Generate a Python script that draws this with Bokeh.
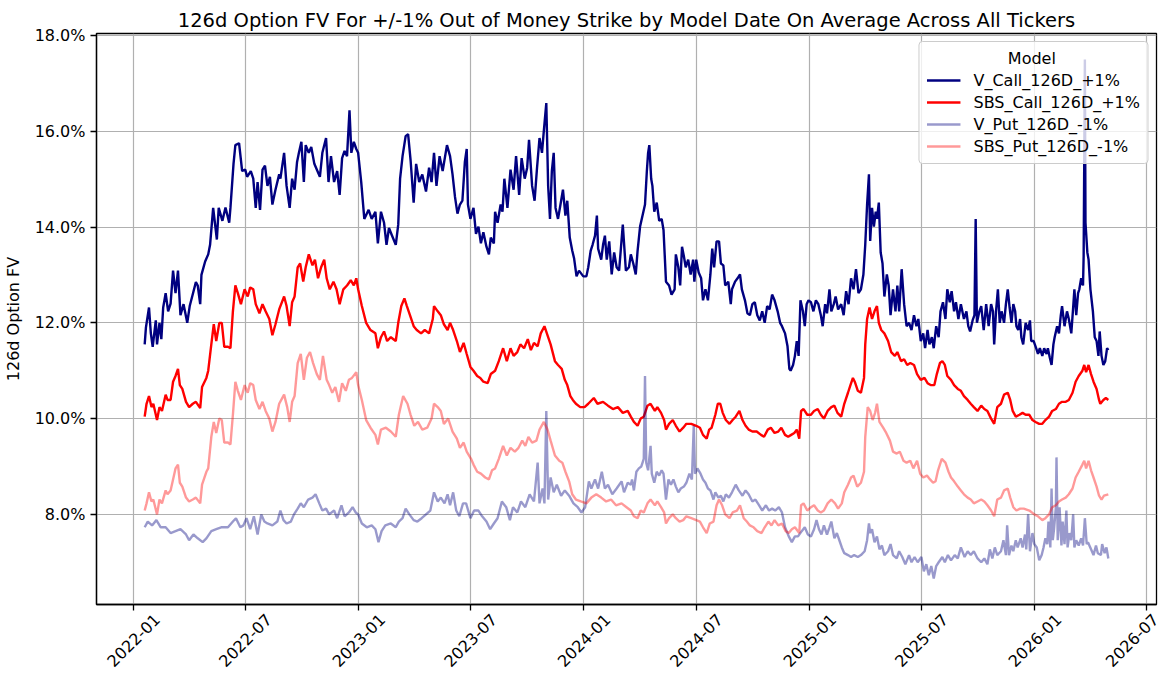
import math
import pandas as pd
from bokeh.plotting import figure
from bokeh.models import (Range1d, FixedTicker, PrintfTickFormatter, Legend, LegendItem,
                          ColumnDataSource, DatetimeAxis)
from bokeh.embed import file_html
from bokeh.resources import INLINE

TITLE = "126d Option FV For +/-1% Out of Money Strike by Model Date On Average Across All Tickers"
Y_LABEL = "126d Option FV"
LEGEND_TITLE = "Model"
FONT = "DejaVu Sans"

# (model date, average 126d option fair value in %)
v_call = [
    ("2022-01-19",11.55),("2022-01-21",11.90),("2022-01-26",12.32),("2022-01-29",11.78),("2022-02-01",11.50),
    ("2022-02-06",12.05),("2022-02-08",11.55),("2022-02-12",12.00),("2022-02-15",11.66),("2022-02-18",12.32),
    ("2022-02-22",12.62),("2022-02-26",12.24),("2022-03-02",12.40),("2022-03-06",13.09),("2022-03-10",12.62),
    ("2022-03-14",13.09),("2022-03-18",12.16),("2022-03-23",12.39),("2022-03-29",12.00),("2022-04-02",12.35),
    ("2022-04-06",12.55),("2022-04-12",12.85),("2022-04-15",12.78),("2022-04-19",12.39),("2022-04-21",13.00),
    ("2022-04-27",13.28),("2022-05-02",13.43),("2022-05-05",13.63),("2022-05-10",14.40),("2022-05-16",13.74),
    ("2022-05-19",14.40),("2022-05-25",14.13),("2022-05-30",14.41),("2022-06-05",14.09),("2022-06-07",14.40),
    ("2022-06-12",15.32),("2022-06-15",15.71),("2022-06-21",15.75),("2022-06-26",15.17),("2022-07-01",15.20),
    ("2022-07-04",15.05),("2022-07-10",15.17),("2022-07-14",15.01),("2022-07-18",14.40),("2022-07-21",14.94),
    ("2022-07-25",14.36),("2022-07-29",15.20),("2022-08-02",15.28),("2022-08-06",14.86),("2022-08-10",15.05),
    ("2022-08-14",14.47),("2022-08-19",14.78),("2022-08-25",15.10),("2022-08-27",15.01),("2022-09-02",15.55),
    ("2022-09-06",14.86),("2022-09-11",14.40),("2022-09-15",15.01),("2022-09-19",14.78),("2022-09-23",15.36),
    ("2022-09-26",15.55),("2022-09-30",15.78),("2022-10-04",14.94),("2022-10-07",15.71),("2022-10-12",15.55),
    ("2022-10-16",15.67),("2022-10-21",15.32),("2022-10-26",15.17),("2022-10-30",15.05),("2022-11-03",15.55),
    ("2022-11-09",15.86),("2022-11-13",14.94),("2022-11-17",15.48),("2022-11-22",14.94),("2022-11-27",15.17),
    ("2022-12-01",14.67),("2022-12-05",15.44),("2022-12-09",15.59),("2022-12-13",15.48),("2022-12-17",16.44),
    ("2022-12-20",15.55),("2022-12-24",15.78),("2022-12-28",15.63),("2022-12-31",15.55),("2023-01-05",14.94),
    ("2023-01-10",14.17),("2023-01-17",14.36),("2023-01-22",14.17),("2023-01-28",14.32),("2023-02-01",13.66),
    ("2023-02-06",14.32),("2023-02-11",14.09),("2023-02-15",13.63),("2023-02-19",13.98),("2023-02-24",13.82),
    ("2023-03-02",13.63),("2023-03-06",14.05),("2023-03-09",15.01),("2023-03-13",15.48),("2023-03-18",15.90),
    ("2023-03-22",15.94),("2023-03-26",15.40),("2023-03-31",14.51),("2023-04-04",15.32),("2023-04-09",14.94),
    ("2023-04-14",15.10),("2023-04-20",14.74),("2023-04-25",15.24),("2023-04-29",14.94),("2023-05-03",15.55),
    ("2023-05-07",14.86),("2023-05-12",15.48),("2023-05-17",15.17),("2023-05-24",15.71),("2023-05-29",15.48),
    ("2023-06-02",15.10),("2023-06-06",14.63),("2023-06-10",14.28),("2023-06-14",14.47),("2023-06-18",14.55),
    ("2023-06-22",15.36),("2023-06-25",15.63),("2023-06-27",14.47),("2023-07-01",14.17),("2023-07-06",14.40),
    ("2023-07-10",13.86),("2023-07-14",14.01),("2023-07-18",13.66),("2023-07-22",13.89),("2023-07-27",13.59),
    ("2023-07-31",13.43),("2023-08-03",13.78),("2023-08-08",13.66),("2023-08-10",14.32),("2023-08-14",14.09),
    ("2023-08-19",14.47),("2023-08-22",14.32),("2023-08-25",15.01),("2023-08-30",14.40),("2023-09-04",15.20),
    ("2023-09-09",14.78),("2023-09-13",15.48),("2023-09-18",14.67),("2023-09-22",15.44),("2023-09-27",15.01),
    ("2023-10-01",15.24),("2023-10-04",15.82),("2023-10-09",14.86),("2023-10-13",14.55),("2023-10-17",15.24),
    ("2023-10-21",15.86),("2023-10-25",15.55),("2023-10-28",16.01),("2023-11-01",16.59),("2023-11-04",14.86),
    ("2023-11-07",14.17),("2023-11-10",15.17),("2023-11-13",15.55),("2023-11-16",14.40),("2023-11-20",14.17),
    ("2023-11-24",14.47),("2023-11-28",14.78),("2023-12-02",14.24),("2023-12-05",14.55),("2023-12-09",13.78),
    ("2023-12-13",13.51),("2023-12-16",13.35),("2023-12-20",12.97),("2023-12-24",13.09),("2023-12-31",12.97),
    ("2024-01-05",12.97),("2024-01-08",13.16),("2024-01-12",13.51),("2024-01-15",13.63),("2024-01-19",13.82),
    ("2024-01-22",14.24),("2024-01-24",13.55),("2024-01-29",13.32),("2024-02-01",13.63),("2024-02-04",13.82),
    ("2024-02-07",13.32),("2024-02-11",13.70),("2024-02-15",13.01),("2024-02-19",13.47),("2024-02-23",13.16),
    ("2024-02-27",13.09),("2024-03-04",14.05),("2024-03-09",13.09),("2024-03-14",13.16),("2024-03-17",13.43),
    ("2024-03-21",13.24),("2024-03-25",13.01),("2024-03-28",13.51),("2024-04-01",14.01),("2024-04-05",14.24),
    ("2024-04-09",14.47),("2024-04-12",15.17),("2024-04-14",15.55),("2024-04-16",15.71),("2024-04-19",15.01),
    ("2024-04-21",14.86),("2024-04-24",14.32),("2024-04-28",14.51),("2024-05-02",14.13),("2024-05-06",14.17),
    ("2024-05-09",13.94),("2024-05-13",12.86),("2024-05-18",12.78),("2024-05-22",12.59),("2024-05-27",12.70),
    ("2024-05-29",13.43),("2024-06-02",13.16),("2024-06-05",12.78),("2024-06-08",13.59),("2024-06-11",13.39),
    ("2024-06-14",13.16),("2024-06-18",13.32),("2024-06-22",13.01),("2024-06-26",13.32),("2024-06-28",12.86),
    ("2024-07-01",13.32),("2024-07-05",13.05),("2024-07-09",12.93),("2024-07-12",12.47),("2024-07-16",12.70),
    ("2024-07-20",12.47),("2024-07-24",13.01),("2024-07-27",13.55),("2024-07-30",13.16),("2024-08-03",13.70),
    ("2024-08-07",13.70),("2024-08-10",13.24),("2024-08-14",13.20),("2024-08-17",12.78),("2024-08-22",12.86),
    ("2024-08-26",12.39),("2024-08-28",12.70),("2024-09-02",12.86),("2024-09-06",12.93),("2024-09-10",13.01),
    ("2024-09-13",12.70),("2024-09-18",12.47),("2024-09-22",12.20),("2024-09-26",12.16),("2024-09-30",12.39),
    ("2024-10-04",12.43),("2024-10-08",12.16),("2024-10-12",12.05),("2024-10-16",12.24),("2024-10-20",12.00),
    ("2024-10-24",12.35),("2024-10-28",12.28),("2024-11-01",12.59),("2024-11-05",12.47),("2024-11-10",12.24),
    ("2024-11-14",12.00),("2024-11-17",11.93),("2024-11-22",11.78),("2024-11-26",11.51),("2024-11-29",11.04),
    ("2024-12-01",11.00),("2024-12-05",11.12),("2024-12-08",11.31),("2024-12-11",11.62),("2024-12-14",11.31),
    ("2024-12-17",12.47),("2024-12-21",12.24),("2024-12-24",11.93),("2024-12-27",12.39),("2024-12-30",12.47),
    ("2025-01-03",12.43),("2025-01-07",12.24),("2025-01-11",12.47),("2025-01-15",12.39),("2025-01-19",12.16),
    ("2025-01-22",11.93),("2025-01-26",12.39),("2025-01-29",12.20),("2025-02-02",12.70),("2025-02-05",12.24),
    ("2025-02-09",12.39),("2025-02-12",12.55),("2025-02-16",12.28),("2025-02-21",12.39),("2025-02-25",12.16),
    ("2025-03-01",12.66),("2025-03-05",12.39),("2025-03-09",12.93),("2025-03-13",12.70),("2025-03-17",13.12),
    ("2025-03-21",12.62),("2025-03-25",12.70),("2025-03-29",13.01),("2025-04-01",13.63),("2025-04-04",14.47),
    ("2025-04-07",15.10),("2025-04-09",13.71),("2025-04-12",14.40),("2025-04-15",14.01),("2025-04-18",14.32),
    ("2025-04-20",14.17),("2025-04-23",14.51),("2025-04-26",13.47),("2025-04-29",13.24),("2025-05-02",12.55),
    ("2025-05-06",13.01),("2025-05-09",12.78),("2025-05-12",12.16),("2025-05-16",12.70),("2025-05-20",12.24),
    ("2025-05-23",12.78),("2025-05-26",12.24),("2025-05-30",13.12),("2025-06-03",12.39),("2025-06-07",11.93),
    ("2025-06-11",12.00),("2025-06-15",11.85),("2025-06-19",12.16),("2025-06-23",11.93),("2025-06-26",12.08),
    ("2025-06-30",11.62),("2025-07-04",11.78),("2025-07-07",11.47),("2025-07-11",11.85),("2025-07-14",11.55),
    ("2025-07-18",11.70),("2025-07-21",11.47),("2025-07-25",11.93),("2025-07-29",11.70),("2025-08-01",12.24),
    ("2025-08-05",12.43),("2025-08-09",12.08),("2025-08-12",12.70),("2025-08-16",12.43),("2025-08-19",12.66),
    ("2025-08-23",12.24),("2025-08-26",12.43),("2025-08-30",12.08),("2025-09-03",12.39),("2025-09-08",12.08),
    ("2025-09-12",12.24),("2025-09-15",11.93),("2025-09-18",11.82),("2025-09-22",12.05),("2025-09-25",12.16),
    ("2025-09-27",14.17),("2025-09-29",12.00),("2025-10-03",12.24),("2025-10-06",12.35),("2025-10-10",11.85),
    ("2025-10-14",12.39),("2025-10-18",11.93),("2025-10-22",12.39),("2025-10-25",12.24),("2025-10-27",11.55),
    ("2025-10-30",12.24),("2025-11-02",12.70),("2025-11-05",12.00),("2025-11-08",12.24),("2025-11-12",12.00),
    ("2025-11-15",12.39),("2025-11-18",12.70),("2025-11-21",12.32),("2025-11-24",12.00),("2025-11-27",12.39),
    ("2025-11-30",12.24),("2025-12-02",11.93),("2025-12-05",11.85),("2025-12-08",12.08),("2025-12-10",11.70),
    ("2025-12-13",11.55),("2025-12-17",12.00),("2025-12-21",11.85),("2025-12-24",12.05),("2025-12-26",11.62),
    ("2025-12-30",11.62),("2026-01-03",11.47),("2026-01-06",11.35),("2026-01-09",11.47),("2026-01-13",11.31),
    ("2026-01-16",11.47),("2026-01-20",11.35),("2026-01-22",11.47),("2026-01-25",11.28),("2026-01-28",11.12),
    ("2026-01-31",11.55),("2026-02-02",11.70),("2026-02-06",11.93),("2026-02-09",11.78),("2026-02-12",12.16),
    ("2026-02-14",12.35),("2026-02-18",11.93),("2026-02-22",12.24),("2026-02-25",12.08),("2026-03-01",11.78),
    ("2026-03-04",12.32),("2026-03-06",12.70),("2026-03-09",12.16),("2026-03-12",12.62),("2026-03-14",12.70),
    ("2026-03-17",12.93),("2026-03-20",12.78),("2026-03-21",13.39),("2026-03-23",17.50),("2026-03-24",14.09),
    ("2026-03-27",13.47),("2026-03-29",13.32),("2026-04-01",12.70),("2026-04-05",12.24),("2026-04-08",11.70),
    ("2026-04-11",11.62),("2026-04-14",11.31),("2026-04-16",11.82),("2026-04-19",11.31),("2026-04-22",11.12),
    ("2026-04-25",11.20),("2026-04-28",11.47),("2026-04-30",11.43),
]

sbs_call = [
    ("2022-01-19",10.04),("2022-01-22",10.31),("2022-01-26",10.47),("2022-01-30",10.24),("2022-02-02",10.31),
    ("2022-02-08",9.97),("2022-02-12",10.24),("2022-02-16",10.16),("2022-02-22",10.50),("2022-02-25",10.39),
    ("2022-03-02",10.39),("2022-03-06",10.77),("2022-03-10",10.89),("2022-03-14",11.04),("2022-03-17",10.70),
    ("2022-03-21",10.62),("2022-03-27",10.35),("2022-04-01",10.24),("2022-04-07",10.31),("2022-04-12",10.35),
    ("2022-04-19",10.22),("2022-04-22",10.66),("2022-04-29",10.85),("2022-05-02",11.00),("2022-05-07",11.55),
    ("2022-05-11",11.97),("2022-05-15",11.62),("2022-05-20",12.00),("2022-05-24",12.00),("2022-05-28",11.50),
    ("2022-06-03",11.50),("2022-06-07",11.47),("2022-06-11",12.24),("2022-06-15",12.78),("2022-06-19",12.62),
    ("2022-06-24",12.39),("2022-06-30",12.70),("2022-07-05",12.55),("2022-07-09",12.74),("2022-07-14",12.70),
    ("2022-07-18",12.39),("2022-07-24",12.20),("2022-07-29",12.39),("2022-08-03",12.24),("2022-08-09",12.08),
    ("2022-08-14",11.74),("2022-08-19",11.97),("2022-08-25",12.28),("2022-08-27",12.35),("2022-09-02",12.55),
    ("2022-09-06",12.35),("2022-09-11",11.93),("2022-09-15",12.43),("2022-09-19",12.55),("2022-09-24",13.16),
    ("2022-09-28",13.24),("2022-10-03",12.86),("2022-10-07",13.16),("2022-10-12",13.43),("2022-10-18",13.20),
    ("2022-10-22",13.32),("2022-10-27",12.93),("2022-11-01",13.16),("2022-11-06",13.32),("2022-11-10",12.93),
    ("2022-11-15",12.70),("2022-11-21",12.86),("2022-11-26",12.70),("2022-12-01",12.39),("2022-12-07",12.70),
    ("2022-12-13",12.78),("2022-12-19",12.89),("2022-12-24",12.78),("2022-12-28",12.93),("2022-12-31",12.70),
    ("2023-01-06",12.35),("2023-01-13",12.00),("2023-01-20",11.85),("2023-01-28",11.78),("2023-02-01",11.47),
    ("2023-02-06",11.70),("2023-02-11",11.82),("2023-02-16",11.62),("2023-02-22",11.70),("2023-03-02",11.62),
    ("2023-03-06",12.00),("2023-03-11",12.35),("2023-03-16",12.51),("2023-03-20",12.35),("2023-03-25",12.16),
    ("2023-03-31",11.93),("2023-04-05",11.85),("2023-04-12",11.78),("2023-04-18",11.85),("2023-04-25",11.78),
    ("2023-05-01",12.08),("2023-05-03",12.35),("2023-05-09",12.24),("2023-05-14",12.16),("2023-05-19",11.97),
    ("2023-05-25",11.85),("2023-05-29",12.00),("2023-06-03",11.85),("2023-06-09",11.62),("2023-06-14",11.39),
    ("2023-06-20",11.58),("2023-06-25",11.35),("2023-07-01",11.08),("2023-07-06",11.00),("2023-07-12",10.89),
    ("2023-07-17",10.85),("2023-07-22",10.77),("2023-07-29",10.74),("2023-08-03",10.93),("2023-08-10",11.00),
    ("2023-08-16",11.20),("2023-08-23",11.47),("2023-08-29",11.20),("2023-09-04",11.47),("2023-09-09",11.31),
    ("2023-09-15",11.39),("2023-09-20",11.55),("2023-09-26",11.47),("2023-10-02",11.66),("2023-10-07",11.43),
    ("2023-10-12",11.58),("2023-10-18",11.51),("2023-10-23",11.78),("2023-10-29",11.93),("2023-11-03",11.74),
    ("2023-11-08",11.55),("2023-11-15",11.20),("2023-11-20",11.12),("2023-11-26",11.04),("2023-12-01",10.81),
    ("2023-12-05",10.70),("2023-12-10",10.47),("2023-12-14",10.39),("2023-12-19",10.31),("2023-12-26",10.24),
    ("2024-01-02",10.24),("2024-01-08",10.31),("2024-01-17",10.43),("2024-01-23",10.31),("2024-02-01",10.35),
    ("2024-02-09",10.27),("2024-02-17",10.20),("2024-02-25",10.24),("2024-03-04",10.12),("2024-03-12",10.16),
    ("2024-03-17",10.04),("2024-03-22",9.93),("2024-03-28",9.85),("2024-04-02",10.00),("2024-04-07",10.04),
    ("2024-04-13",10.27),("2024-04-18",10.31),("2024-04-25",10.16),("2024-04-29",10.24),("2024-05-05",10.12),
    ("2024-05-10",9.97),("2024-05-13",9.77),("2024-05-18",9.89),("2024-05-24",9.97),("2024-05-29",9.85),
    ("2024-06-04",9.73),("2024-06-10",9.81),("2024-06-15",9.89),("2024-06-23",9.89),("2024-07-01",9.85),
    ("2024-07-07",9.81),("2024-07-12",9.66),("2024-07-18",9.58),("2024-07-22",9.77),("2024-07-26",9.81),
    ("2024-08-01",10.08),("2024-08-05",10.31),("2024-08-09",10.31),("2024-08-13",10.12),("2024-08-18",9.97),
    ("2024-08-24",9.89),("2024-08-29",9.97),("2024-09-03",10.04),("2024-09-09",10.16),("2024-09-14",9.97),
    ("2024-09-19",9.85),("2024-09-24",9.77),("2024-09-30",9.73),("2024-10-07",9.73),("2024-10-14",9.66),
    ("2024-10-19",9.62),("2024-10-25",9.77),("2024-10-30",9.81),("2024-11-05",9.70),("2024-11-11",9.73),
    ("2024-11-16",9.81),("2024-11-22",9.66),("2024-11-27",9.62),("2024-12-02",9.66),("2024-12-07",9.70),
    ("2024-12-11",9.77),("2024-12-15",9.58),("2024-12-18",10.16),("2024-12-22",10.20),("2024-12-28",10.08),
    ("2025-01-03",10.08),("2025-01-08",10.16),("2025-01-14",10.20),("2025-01-19",10.08),("2025-01-24",10.00),
    ("2025-01-30",10.16),("2025-02-05",10.24),("2025-02-10",10.27),("2025-02-15",10.12),("2025-02-21",10.04),
    ("2025-02-26",10.31),("2025-03-04",10.54),("2025-03-08",10.70),("2025-03-12",10.85),("2025-03-15",10.77),
    ("2025-03-20",10.58),("2025-03-25",10.54),("2025-03-30",10.85),("2025-04-01",11.55),("2025-04-04",12.08),
    ("2025-04-08",12.32),("2025-04-12",12.08),("2025-04-16",12.24),("2025-04-20",12.35),("2025-04-23",12.00),
    ("2025-04-27",11.85),("2025-05-02",11.78),("2025-05-08",11.62),("2025-05-13",11.39),("2025-05-19",11.31),
    ("2025-05-23",11.39),("2025-05-29",11.20),("2025-06-03",11.24),("2025-06-08",11.12),("2025-06-13",11.16),
    ("2025-06-19",11.12),("2025-06-24",10.93),("2025-06-30",10.81),("2025-07-06",10.85),("2025-07-11",10.74),
    ("2025-07-16",10.70),("2025-07-22",10.70),("2025-07-26",10.93),("2025-07-31",11.16),("2025-08-04",11.20),
    ("2025-08-08",11.12),("2025-08-12",10.89),("2025-08-18",10.81),("2025-08-23",10.70),("2025-08-29",10.62),
    ("2025-09-03",10.58),("2025-09-08",10.47),("2025-09-14",10.39),("2025-09-19",10.31),("2025-09-24",10.24),
    ("2025-09-30",10.16),("2025-10-06",10.27),("2025-10-11",10.20),("2025-10-16",10.16),("2025-10-22",10.00),
    ("2025-10-27",9.89),("2025-11-01",10.24),("2025-11-07",10.31),("2025-11-12",10.50),("2025-11-18",10.54),
    ("2025-11-22",10.39),("2025-11-26",10.16),("2025-12-01",10.04),("2025-12-07",10.08),("2025-12-12",10.12),
    ("2025-12-17",10.08),("2025-12-23",10.08),("2025-12-28",9.97),("2026-01-02",9.93),("2026-01-08",9.89),
    ("2026-01-13",9.89),("2026-01-18",9.97),("2026-01-24",10.04),("2026-01-29",10.16),("2026-02-04",10.20),
    ("2026-02-09",10.31),("2026-02-14",10.35),("2026-02-20",10.35),("2026-02-25",10.39),("2026-03-03",10.54),
    ("2026-03-08",10.77),("2026-03-13",10.89),("2026-03-19",11.00),("2026-03-22",11.12),("2026-03-25",10.97),
    ("2026-03-29",11.12),("2026-04-02",10.93),("2026-04-06",10.77),("2026-04-11",10.62),("2026-04-15",10.39),
    ("2026-04-17",10.31),("2026-04-22",10.39),("2026-04-26",10.43),("2026-04-30",10.39),
]

v_put = [
    ("2022-01-19",7.73),("2022-01-24",7.85),("2022-01-31",7.77),("2022-02-07",7.88),("2022-02-14",7.73),
    ("2022-02-22",7.73),("2022-03-02",7.61),("2022-03-10",7.65),("2022-03-18",7.69),("2022-03-27",7.58),
    ("2022-04-01",7.46),("2022-04-08",7.58),("2022-04-15",7.50),("2022-04-23",7.42),("2022-04-29",7.50),
    ("2022-05-07",7.65),("2022-05-15",7.69),("2022-05-23",7.73),("2022-06-03",7.73),("2022-06-11",7.85),
    ("2022-06-16",7.92),("2022-06-23",7.73),("2022-06-28",7.77),("2022-07-03",7.92),("2022-07-09",7.69),
    ("2022-07-15",7.96),("2022-07-21",7.58),("2022-07-27",8.00),("2022-08-01",7.85),("2022-08-06",7.81),
    ("2022-08-14",7.77),("2022-08-22",7.85),("2022-08-27",8.08),("2022-09-01",7.88),("2022-09-06",7.81),
    ("2022-09-13",7.85),("2022-09-18",8.00),("2022-09-24",8.12),("2022-09-29",8.23),("2022-10-04",8.15),
    ("2022-10-11",8.31),("2022-10-18",8.35),("2022-10-23",8.42),("2022-10-29",8.23),("2022-11-03",8.08),
    ("2022-11-09",8.12),("2022-11-14",8.00),("2022-11-22",8.08),("2022-11-27",7.92),("2022-12-04",8.19),
    ("2022-12-09",7.96),("2022-12-16",8.04),("2022-12-22",8.15),("2022-12-27",8.04),("2022-12-31",8.00),
    ("2023-01-06",7.81),("2023-01-14",7.73),("2023-01-22",7.77),("2023-01-28",7.69),("2023-02-02",7.42),
    ("2023-02-07",7.65),("2023-02-13",7.77),("2023-02-22",7.81),("2023-03-02",7.73),("2023-03-07",7.85),
    ("2023-03-13",7.92),("2023-03-18",8.12),("2023-03-24",8.00),("2023-03-31",7.88),("2023-04-06",7.85),
    ("2023-04-13",7.92),("2023-04-20",8.00),("2023-04-27",8.08),("2023-05-03",8.46),("2023-05-09",8.27),
    ("2023-05-14",8.35),("2023-05-20",8.23),("2023-05-25",8.42),("2023-05-29",8.19),("2023-06-03",8.46),
    ("2023-06-08",8.08),("2023-06-13",7.96),("2023-06-19",8.23),("2023-06-24",8.23),("2023-07-01",7.92),
    ("2023-07-07",8.08),("2023-07-14",8.08),("2023-07-20",7.96),("2023-07-27",7.85),("2023-08-02",7.69),
    ("2023-08-08",7.81),("2023-08-14",7.92),("2023-08-21",8.27),("2023-08-28",8.15),("2023-09-03",7.88),
    ("2023-09-08",8.15),("2023-09-15",8.04),("2023-09-21",8.27),("2023-09-28",8.15),("2023-10-05",8.42),
    ("2023-10-12",8.27),("2023-10-18",9.08),("2023-10-21",8.23),("2023-10-26",8.54),("2023-10-29",8.23),
    ("2023-11-01",10.16),("2023-11-04",8.31),("2023-11-08",8.77),("2023-11-13",8.46),("2023-11-18",8.62),
    ("2023-11-25",8.39),("2023-12-01",8.50),("2023-12-08",8.39),("2023-12-15",8.23),("2023-12-22",8.15),
    ("2023-12-28",8.04),("2024-01-03",8.15),("2024-01-09",8.69),("2024-01-13",8.54),("2024-01-19",8.73),
    ("2024-01-24",8.54),("2024-01-30",8.89),("2024-02-04",8.54),("2024-02-09",8.62),("2024-02-16",8.42),
    ("2024-02-23",8.54),("2024-03-02",8.69),("2024-03-06",8.46),("2024-03-12",8.66),("2024-03-17",8.62),
    ("2024-03-19",8.73),("2024-03-22",8.50),("2024-03-26",8.89),("2024-03-30",8.96),("2024-04-03",9.00),
    ("2024-04-07",9.16),("2024-04-09",10.89),("2024-04-11",9.08),("2024-04-14",8.92),("2024-04-18",9.43),
    ("2024-04-20",8.85),("2024-04-24",8.66),("2024-04-28",8.89),("2024-05-02",8.81),("2024-05-06",8.92),
    ("2024-05-09",8.85),("2024-05-13",8.31),("2024-05-17",8.73),("2024-05-21",8.62),("2024-05-25",8.73),
    ("2024-05-29",8.58),("2024-06-02",8.46),("2024-06-06",8.54),("2024-06-11",8.58),("2024-06-15",8.66),
    ("2024-06-20",8.85),("2024-06-24",8.73),("2024-06-27",9.85),("2024-06-29",8.85),("2024-07-03",8.96),
    ("2024-07-08",8.85),("2024-07-12",8.73),("2024-07-16",8.66),("2024-07-20",8.54),("2024-07-24",8.50),
    ("2024-07-29",8.31),("2024-08-01",8.46),("2024-08-06",8.35),("2024-08-10",8.39),("2024-08-14",8.27),
    ("2024-08-18",8.42),("2024-08-23",8.35),("2024-08-28",8.46),("2024-09-03",8.62),("2024-09-08",8.50),
    ("2024-09-14",8.39),("2024-09-19",8.50),("2024-09-24",8.42),("2024-09-30",8.27),("2024-10-05",8.31),
    ("2024-10-11",8.19),("2024-10-16",8.08),("2024-10-22",8.19),("2024-10-27",8.08),("2024-11-01",8.12),
    ("2024-11-06",8.08),("2024-11-12",8.15),("2024-11-17",8.04),("2024-11-22",7.73),("2024-11-28",7.54),
    ("2024-12-03",7.42),("2024-12-08",7.54),("2024-12-13",7.54),("2024-12-19",7.65),("2024-12-24",7.73),
    ("2024-12-29",7.58),("2025-01-03",7.54),("2025-01-08",7.69),("2025-01-12",7.88),("2025-01-16",7.69),
    ("2025-01-20",7.58),("2025-01-24",7.77),("2025-01-29",7.58),("2025-02-02",7.73),("2025-02-05",7.85),
    ("2025-02-10",7.50),("2025-02-14",7.61),("2025-02-18",7.46),("2025-02-22",7.31),("2025-02-26",7.19),
    ("2025-03-04",7.15),("2025-03-09",7.11),("2025-03-14",7.15),("2025-03-20",7.11),("2025-03-25",7.15),
    ("2025-03-31",7.23),("2025-04-04",7.46),("2025-04-07",7.81),("2025-04-09",7.61),("2025-04-12",7.69),
    ("2025-04-16",7.42),("2025-04-20",7.54),("2025-04-24",7.27),("2025-04-28",7.35),("2025-05-02",7.15),
    ("2025-05-08",7.23),("2025-05-12",7.38),("2025-05-16",7.15),("2025-05-22",7.08),("2025-05-26",7.23),
    ("2025-05-31",7.11),("2025-06-05",6.96),("2025-06-11",7.15),("2025-06-15",7.00),("2025-06-20",7.11),
    ("2025-06-25",7.00),("2025-07-01",7.11),("2025-07-05",6.81),("2025-07-09",6.96),("2025-07-13",6.73),
    ("2025-07-17",6.92),("2025-07-21",6.66),("2025-07-25",6.92),("2025-07-29",7.00),("2025-08-04",7.11),
    ("2025-08-08",7.00),("2025-08-13",7.15),("2025-08-18",7.04),("2025-08-24",7.15),("2025-08-29",7.08),
    ("2025-09-03",7.31),("2025-09-09",7.11),("2025-09-14",7.23),("2025-09-19",7.15),("2025-09-24",7.23),
    ("2025-09-30",7.08),("2025-10-06",7.00),("2025-10-11",7.08),("2025-10-16",6.96),("2025-10-20",7.27),
    ("2025-10-24",7.08),("2025-10-28",7.31),("2025-11-01",7.15),("2025-11-07",7.23),("2025-11-11",7.46),
    ("2025-11-15",7.15),("2025-11-17",7.77),("2025-11-20",7.15),("2025-11-24",7.35),("2025-11-27",7.23),
    ("2025-12-01",7.46),("2025-12-04",7.31),("2025-12-09",7.50),("2025-12-12",7.31),("2025-12-16",7.58),
    ("2025-12-18",7.27),("2025-12-21",8.00),("2025-12-24",7.23),("2025-12-28",7.61),("2025-12-31",7.38),
    ("2026-01-04",7.31),("2026-01-08",7.04),("2026-01-12",7.15),("2026-01-15",7.31),("2026-01-18",7.50),
    ("2026-01-21",7.38),("2026-01-23",7.85),("2026-01-26",7.31),("2026-01-28",8.54),("2026-01-30",7.46),
    ("2026-02-01",7.69),("2026-02-04",8.15),("2026-02-05",9.19),("2026-02-07",7.46),("2026-02-10",8.15),
    ("2026-02-13",7.35),("2026-02-15",7.85),("2026-02-18",7.38),("2026-02-21",8.08),("2026-02-23",7.31),
    ("2026-02-26",7.61),("2026-03-01",7.46),("2026-03-04",8.00),("2026-03-06",7.31),("2026-03-09",7.46),
    ("2026-03-13",7.35),("2026-03-17",7.50),("2026-03-20",7.35),("2026-03-23",7.92),("2026-03-26",7.38),
    ("2026-03-28",7.42),("2026-04-02",7.27),("2026-04-06",7.15),("2026-04-10",7.35),("2026-04-13",7.19),
    ("2026-04-18",7.15),("2026-04-20",7.38),("2026-04-24",7.19),("2026-04-27",7.31),("2026-04-30",7.08),
]

sbs_put = [
    ("2022-01-19",8.08),("2022-01-22",8.23),("2022-01-26",8.46),("2022-01-30",8.27),("2022-02-02",8.31),
    ("2022-02-08",8.00),("2022-02-12",8.31),("2022-02-16",8.23),("2022-02-22",8.50),("2022-02-25",8.42),
    ("2022-03-02",8.50),("2022-03-06",8.73),("2022-03-10",8.96),("2022-03-14",9.04),("2022-03-17",8.66),
    ("2022-03-21",8.58),("2022-03-27",8.35),("2022-04-01",8.27),("2022-04-07",8.31),("2022-04-12",8.35),
    ("2022-04-19",8.23),("2022-04-22",8.62),("2022-04-29",8.89),("2022-05-02",8.96),("2022-05-07",9.62),
    ("2022-05-11",9.93),("2022-05-15",9.70),("2022-05-20",10.00),("2022-05-24",9.97),("2022-05-28",9.50),
    ("2022-06-03",9.50),("2022-06-07",9.46),("2022-06-11",10.08),("2022-06-15",10.77),("2022-06-19",10.58),
    ("2022-06-24",10.39),("2022-06-30",10.70),("2022-07-05",10.54),("2022-07-09",10.74),("2022-07-14",10.70),
    ("2022-07-18",10.39),("2022-07-24",10.20),("2022-07-29",10.35),("2022-08-03",10.16),("2022-08-09",10.00),
    ("2022-08-14",9.73),("2022-08-19",9.93),("2022-08-25",10.31),("2022-09-02",10.50),("2022-09-07",10.24),
    ("2022-09-11",9.93),("2022-09-15",10.35),("2022-09-19",10.47),("2022-09-24",11.16),("2022-09-29",11.35),
    ("2022-10-04",10.81),("2022-10-09",11.27),("2022-10-14",11.39),("2022-10-19",11.16),("2022-10-25",10.93),
    ("2022-10-30",10.81),("2022-11-04",11.31),("2022-11-10",10.81),("2022-11-14",10.70),("2022-11-19",10.54),
    ("2022-11-24",10.66),("2022-11-30",10.35),("2022-12-05",10.74),("2022-12-11",10.58),("2022-12-16",10.81),
    ("2022-12-21",10.85),("2022-12-28",10.97),("2022-12-31",10.70),("2023-01-06",10.39),("2023-01-13",9.97),
    ("2023-01-20",9.81),("2023-01-28",9.66),("2023-02-01",9.46),("2023-02-06",9.77),("2023-02-14",9.81),
    ("2023-02-22",9.73),("2023-03-02",9.62),("2023-03-07",10.08),("2023-03-14",10.47),("2023-03-21",10.31),
    ("2023-03-26",10.08),("2023-04-01",9.85),("2023-04-07",9.93),("2023-04-14",9.77),("2023-04-22",9.81),
    ("2023-04-29",10.00),("2023-05-03",10.31),("2023-05-09",10.24),("2023-05-14",10.16),("2023-05-19",9.89),
    ("2023-05-26",10.00),("2023-06-02",9.73),("2023-06-09",9.58),("2023-06-14",9.39),("2023-06-20",9.50),
    ("2023-06-25",9.31),("2023-07-02",9.16),("2023-07-06",9.04),("2023-07-12",8.89),("2023-07-18",8.85),
    ("2023-07-25",8.77),("2023-07-31",8.73),("2023-08-05",8.92),("2023-08-10",8.96),("2023-08-16",9.16),
    ("2023-08-23",9.43),("2023-08-29",9.23),("2023-09-04",9.39),("2023-09-11",9.31),("2023-09-17",9.39),
    ("2023-09-23",9.54),("2023-09-28",9.43),("2023-10-03",9.62),("2023-10-09",9.50),("2023-10-16",9.54),
    ("2023-10-21",9.77),("2023-10-28",9.93),("2023-11-03",9.77),("2023-11-08",9.54),("2023-11-15",9.23),
    ("2023-11-22",9.12),("2023-11-27",9.08),("2023-12-02",8.89),("2023-12-08",8.69),("2023-12-13",8.42),
    ("2023-12-19",8.31),("2023-12-27",8.27),("2024-01-05",8.23),("2024-01-13",8.35),("2024-01-21",8.42),
    ("2024-01-29",8.35),("2024-02-06",8.27),("2024-02-14",8.31),("2024-02-22",8.19),("2024-03-02",8.23),
    ("2024-03-10",8.15),("2024-03-17",8.08),("2024-03-22",7.96),("2024-03-28",7.92),("2024-04-02",8.08),
    ("2024-04-07",8.04),("2024-04-13",8.23),("2024-04-18",8.31),("2024-04-25",8.19),("2024-04-29",8.27),
    ("2024-05-05",8.15),("2024-05-10",8.04),("2024-05-13",7.81),("2024-05-18",7.92),("2024-05-24",8.00),
    ("2024-05-29",7.92),("2024-06-04",7.85),("2024-06-10",7.88),("2024-06-15",7.96),("2024-06-23",7.92),
    ("2024-07-01",7.88),("2024-07-07",7.85),("2024-07-12",7.73),("2024-07-18",7.61),("2024-07-23",7.81),
    ("2024-07-29",7.85),("2024-08-03",8.19),("2024-08-07",8.31),("2024-08-12",8.19),("2024-08-17",8.00),
    ("2024-08-24",7.92),("2024-08-29",8.04),("2024-09-05",8.08),("2024-09-10",8.19),("2024-09-16",7.92),
    ("2024-09-21",7.85),("2024-09-26",7.77),("2024-10-02",7.73),("2024-10-08",7.65),("2024-10-15",7.61),
    ("2024-10-20",7.73),("2024-10-26",7.85),("2024-10-31",7.77),("2024-11-05",7.88),("2024-11-11",7.77),
    ("2024-11-17",7.81),("2024-11-23",7.65),("2024-11-28",7.61),("2024-12-03",7.69),("2024-12-08",7.73),
    ("2024-12-15",7.61),("2024-12-18",8.19),("2024-12-22",8.23),("2024-12-28",8.08),("2025-01-03",8.15),
    ("2025-01-08",8.19),("2025-01-14",8.08),("2025-01-19",8.04),("2025-01-24",8.08),("2025-01-30",8.23),
    ("2025-02-05",8.31),("2025-02-11",8.23),("2025-02-16",8.12),("2025-02-22",8.23),("2025-02-26",8.46),
    ("2025-03-04",8.62),("2025-03-09",8.77),("2025-03-13",8.81),("2025-03-19",8.58),("2025-03-25",8.66),
    ("2025-03-30",8.89),("2025-04-01",9.62),("2025-04-05",10.24),("2025-04-09",10.16),("2025-04-13",9.97),
    ("2025-04-17",10.12),("2025-04-20",10.31),("2025-04-24",9.93),("2025-04-30",9.81),("2025-05-05",9.70),
    ("2025-05-11",9.54),("2025-05-16",9.31),("2025-05-22",9.27),("2025-05-27",9.31),("2025-06-02",9.12),
    ("2025-06-07",9.08),("2025-06-13",9.12),("2025-06-18",8.96),("2025-06-24",9.12),("2025-06-29",8.85),
    ("2025-07-04",8.77),("2025-07-10",8.81),("2025-07-15",8.73),("2025-07-20",8.66),("2025-07-24",8.69),
    ("2025-07-28",8.92),("2025-08-03",9.16),("2025-08-09",9.08),("2025-08-14",8.89),("2025-08-18",8.77),
    ("2025-08-23",8.69),("2025-08-29",8.58),("2025-09-03",8.50),("2025-09-08",8.42),("2025-09-14",8.35),
    ("2025-09-19",8.31),("2025-09-24",8.23),("2025-09-30",8.27),("2025-10-06",8.31),("2025-10-11",8.27),
    ("2025-10-16",8.19),("2025-10-22",8.08),("2025-10-27",7.96),("2025-11-01",8.31),("2025-11-07",8.35),
    ("2025-11-12",8.50),("2025-11-18",8.54),("2025-11-22",8.35),("2025-11-27",8.15),("2025-12-02",8.08),
    ("2025-12-08",8.12),("2025-12-14",8.12),("2025-12-23",8.08),("2025-12-31",8.00),("2026-01-06",7.96),
    ("2026-01-13",7.88),("2026-01-18",7.92),("2026-01-24",8.00),("2026-01-29",8.15),("2026-02-04",8.19),
    ("2026-02-09",8.27),("2026-02-14",8.31),("2026-02-20",8.35),("2026-02-25",8.42),("2026-03-03",8.54),
    ("2026-03-08",8.77),("2026-03-13",8.89),("2026-03-19",9.04),("2026-03-22",9.12),("2026-03-25",8.96),
    ("2026-03-29",9.12),("2026-04-02",8.92),("2026-04-06",8.77),("2026-04-11",8.58),("2026-04-15",8.39),
    ("2026-04-19",8.31),("2026-04-23",8.39),("2026-04-30",8.42),
]

series_names = ["V_Call_126D_+1%", "SBS_Call_126D_+1%", "V_Put_126D_-1%", "SBS_Put_126D_-1%"]
series_data = [v_call, sbs_call, v_put, sbs_put]
series_colors = ["navy", "red", "navy", "red"]
series_alpha = [1.0, 1.0, 0.4, 0.4]

x_tick_dates = ["2022-01-01", "2022-07-01", "2023-01-01", "2023-07-01", "2024-01-01",
                "2024-07-01", "2025-01-01", "2025-07-01", "2026-01-01", "2026-07-01"]
y_ticks = [8, 10, 12, 14, 16, 18]

# the page is drawn from its top-left corner, so the figure takes the whole window
W, H = 1175, 680
BORDER_L, BORDER_R, BORDER_T, BORDER_B = 96, 19, 33, 76

frames = []
for pts in series_data:
    df = pd.DataFrame(pts, columns=["date", "fv"])
    df["date"] = pd.to_datetime(df["date"])
    frames.append(df)

all_x = pd.concat([f["date"] for f in frames])
all_y = pd.concat([f["fv"] for f in frames])


def ms(ts):
    return pd.Timestamp(ts).value / 1e6


x0, x1 = ms(all_x.min()), ms(all_x.max())
xpad = (x1 - x0) * 0.05
y0, y1 = float(all_y.min()), float(all_y.max())
ypad = (y1 - y0) * 0.05
x_start, x_end = x0 - xpad, x1 + xpad
y_start, y_end = y0 - ypad, y1 + ypad

p = figure(width=W, height=H, x_axis_type="datetime",
           x_range=Range1d(x_start, x_end), y_range=Range1d(y_start, y_end),
           output_backend="svg", toolbar_location=None, title=TITLE,
           min_border_left=BORDER_L, min_border_right=BORDER_R,
           min_border_top=BORDER_T, min_border_bottom=BORDER_B)
p.background_fill_color = "white"
p.border_fill_color = "white"
p.outline_line_color = "black"
p.outline_line_width = 1.3
p.outline_line_alpha = 1.0

p.title.text_font = FONT
p.title.text_font_size = "19.5px"
p.title.text_font_style = "normal"
p.title.text_color = "black"
p.title.align = "center"
p.title.standoff = 4

renderers = []
for df, c, a in zip(frames, series_colors, series_alpha):
    r = p.line(x="date", y="fv", source=ColumnDataSource(df), line_color=c,
               line_alpha=a, line_width=2.4)
    renderers.append(r)

tick_ms = [ms(d) for d in x_tick_dates]
tick_text = [pd.Timestamp(d).strftime("%Y-%m") for d in x_tick_dates]
p.xaxis.ticker = FixedTicker(ticks=tick_ms)
p.xaxis.major_label_overrides = {t: "" for t in tick_ms}
p.yaxis.ticker = FixedTicker(ticks=y_ticks)
p.yaxis.formatter = PrintfTickFormatter(format="%.1f%%")

for ax in p.axis:
    ax.axis_line_color = "black"
    ax.axis_line_width = 1.3
    ax.major_tick_line_color = "black"
    ax.major_tick_line_width = 1.3
    ax.major_tick_in = 0
    ax.major_tick_out = 6
    ax.minor_tick_in = 0
    ax.minor_tick_out = 0
    ax.major_label_text_font = FONT
    ax.major_label_text_font_size = "16px"
    ax.major_label_text_color = "black"
    ax.major_label_standoff = 5
p.xaxis.major_label_text_font_size = "0px"

p.yaxis.axis_label = Y_LABEL
p.yaxis.axis_label_text_font = FONT
p.yaxis.axis_label_text_font_size = "16px"
p.yaxis.axis_label_text_font_style = "normal"
p.yaxis.axis_label_text_color = "black"
p.yaxis.axis_label_standoff = 9

p.grid.grid_line_color = "#b0b0b0"
p.grid.grid_line_width = 1.2

# 45-degree date labels. Bokeh hangs a rotated label off its end; the reference
# centres it under the tick, so the label-only axis is nudged right (as far as
# the x range allows for the last one).
frame_w = W - BORDER_L - BORDER_R
ms_per_px = (x_end - x_start) / frame_w
label_ticks = []
for t in tick_ms:
    room_px = (x_end - t) / ms_per_px - 1.0
    label_ticks.append(t + min(23.5, room_px) * ms_per_px)
label_axis = DatetimeAxis(ticker=FixedTicker(ticks=label_ticks),
                          major_label_overrides=dict(zip(label_ticks, tick_text)),
                          major_label_orientation=math.pi / 4,
                          axis_line_color=None, major_tick_line_color=None,
                          minor_tick_line_color=None, major_tick_in=0, major_tick_out=0,
                          minor_tick_in=0, minor_tick_out=0, major_label_standoff=6,
                          major_label_text_font=FONT, major_label_text_font_size="16px",
                          major_label_text_line_height=1.0,
                          major_label_text_color="black")
p.add_layout(label_axis, "below")

legend = Legend(items=[LegendItem(label=n, renderers=[r]) for n, r in zip(series_names, renderers)],
                location="top_right", title="\u00a0" * 16 + LEGEND_TITLE)
legend.title_text_font = FONT
legend.title_text_font_size = "16px"
legend.title_text_font_style = "normal"
legend.title_text_color = "black"
legend.label_text_font = FONT
legend.label_text_font_size = "16px"
legend.label_text_color = "black"
legend.margin = 8
legend.padding = 7
legend.spacing = 2
legend.glyph_width = 34
legend.glyph_height = 20
legend.label_height = 20
legend.label_standoff = 13
legend.title_standoff = 2
legend.border_line_color = "#cccccc"
legend.border_line_alpha = 1.0
legend.background_fill_color = "white"
legend.background_fill_alpha = 0.8
try:
    legend.border_radius = 4
except Exception:
    pass
p.add_layout(legend)

open("out.html", "w").write(file_html(p, INLINE))
